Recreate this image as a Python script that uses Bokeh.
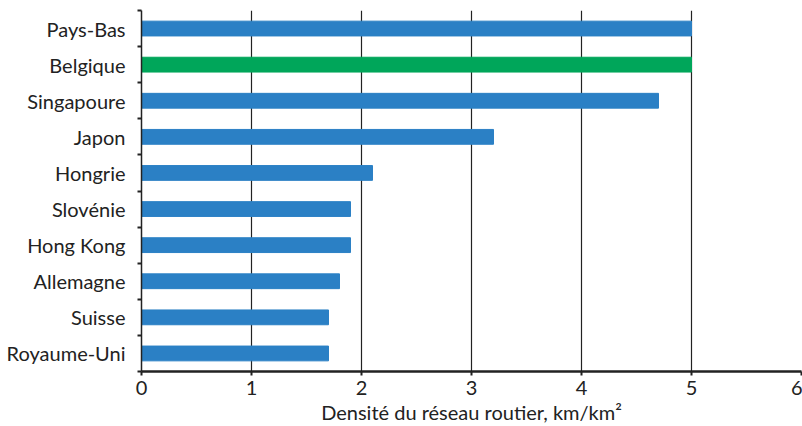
from bokeh.plotting import figure
from bokeh.models import FixedTicker, Range1d, ColumnDataSource
from bokeh.embed import file_html
from bokeh.resources import INLINE

countries = ["Pays-Bas", "Belgique", "Singapoure", "Japon", "Hongrie",
             "Slovénie", "Hong Kong", "Allemagne", "Suisse", "Royaume-Uni"]
values = [5.0, 5.0, 4.7, 3.2, 2.1, 1.9, 1.9, 1.8, 1.7, 1.7]
highlight = "Belgique"
x_ticks = [0, 1, 2, 3, 4, 5, 6]

n = len(countries)
ypos = [n - 0.5 - i for i in range(n)]
colors = ["#00a65a" if c == highlight else "#2b80c5" for c in countries]
src = ColumnDataSource(dict(y=ypos, v=values, c=colors))

FONT = "Lato"
p = figure(width=802, height=426, output_backend="svg", toolbar_location=None,
           x_range=Range1d(0, 6), y_range=Range1d(0, n),
           min_border_left=141, min_border_right=1, min_border_top=10,
           min_border_bottom=52)
p.outline_line_color = None
p.hbar(y="y", right="v", left=0, height=0.41, color="c", source=src)

p.xgrid.ticker = FixedTicker(ticks=x_ticks[1:])
p.xgrid.grid_line_color = "#222222"
p.xgrid.grid_line_width = 1.2
p.ygrid.grid_line_color = None

xa = p.xaxis[0]
xa.ticker = FixedTicker(ticks=x_ticks)
xa.axis_line_width = 2.5
xa.axis_line_color = "#222222"
xa.major_tick_line_color = "#222222"
xa.major_tick_line_width = 2
xa.major_tick_out = 4
xa.major_tick_in = 0
xa.minor_tick_line_color = None
xa.major_label_text_font = FONT
xa.major_label_text_font_size = "20px"
xa.major_label_text_color = "#222222"
xa.major_label_standoff = 5
xa.axis_label = "Densité du réseau routier, km/km²"
xa.axis_label_text_font = FONT
xa.axis_label_text_font_size = "20px"
xa.axis_label_text_font_style = "normal"
xa.axis_label_text_color = "#222222"
xa.axis_label_standoff = 2

ya = p.yaxis[0]
ya.ticker = FixedTicker(ticks=ypos, minor_ticks=list(range(n + 1)))
ya.major_label_overrides = {y: c for y, c in zip(ypos, countries)}
ya.axis_line_width = 1.5
ya.axis_line_color = "#222222"
ya.major_tick_line_color = None
ya.minor_tick_line_color = "#222222"
ya.minor_tick_line_width = 2
ya.minor_tick_out = 4
ya.minor_tick_in = 0
ya.major_label_text_font = FONT
ya.major_label_text_font_size = "20px"
ya.major_label_text_color = "#222222"
ya.major_label_standoff = 10

open("out.html", "w").write(file_html(p, INLINE))
